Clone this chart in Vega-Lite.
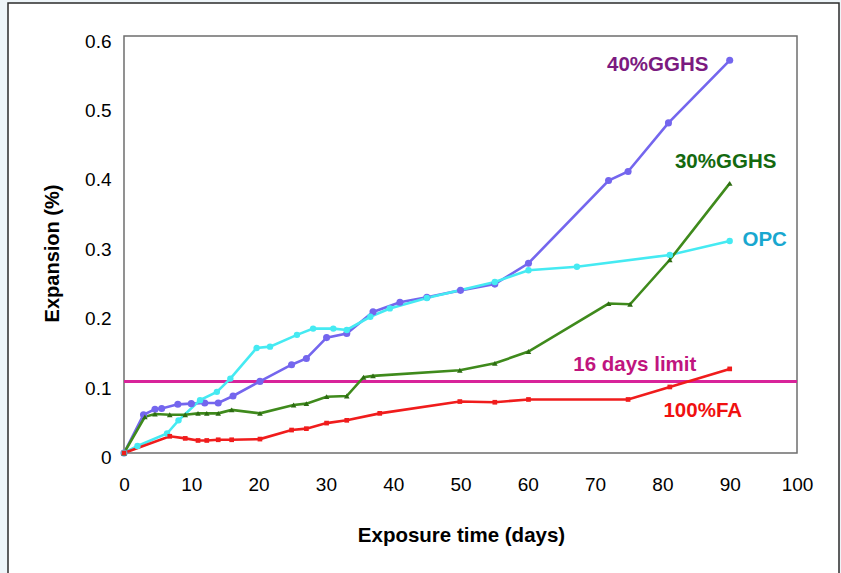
{
  "$schema": "https://vega.github.io/schema/vega-lite/v6.json",
  "width": 831,
  "height": 575,
  "autosize": {"type": "none"},
  "padding": {"left": 8, "top": 3, "right": 2, "bottom": 0},
  "background": "#eef5f9",
  "config": {
    "view": {"fill": "white", "stroke": "#2b2b2b", "strokeWidth": 1.5},
    "font": "Liberation Sans"
  },
  "datasets": {
    "series": [
      {"mix": "40% GGHS", "day": 0, "exp": 0},
      {"mix": "40% GGHS", "day": 2.9, "exp": 0.055},
      {"mix": "40% GGHS", "day": 4.6, "exp": 0.063},
      {"mix": "40% GGHS", "day": 5.6, "exp": 0.064},
      {"mix": "40% GGHS", "day": 8, "exp": 0.070},
      {"mix": "40% GGHS", "day": 10, "exp": 0.071},
      {"mix": "40% GGHS", "day": 12, "exp": 0.072},
      {"mix": "40% GGHS", "day": 14, "exp": 0.072},
      {"mix": "40% GGHS", "day": 16.2, "exp": 0.082},
      {"mix": "40% GGHS", "day": 20.2, "exp": 0.103},
      {"mix": "40% GGHS", "day": 24.9, "exp": 0.127},
      {"mix": "40% GGHS", "day": 27.1, "exp": 0.136},
      {"mix": "40% GGHS", "day": 30.1, "exp": 0.166},
      {"mix": "40% GGHS", "day": 33.1, "exp": 0.172},
      {"mix": "40% GGHS", "day": 37, "exp": 0.203},
      {"mix": "40% GGHS", "day": 41, "exp": 0.217},
      {"mix": "40% GGHS", "day": 45, "exp": 0.224},
      {"mix": "40% GGHS", "day": 50, "exp": 0.234},
      {"mix": "40% GGHS", "day": 55.1, "exp": 0.243},
      {"mix": "40% GGHS", "day": 60.1, "exp": 0.273},
      {"mix": "40% GGHS", "day": 72, "exp": 0.392},
      {"mix": "40% GGHS", "day": 74.9, "exp": 0.405},
      {"mix": "40% GGHS", "day": 80.9, "exp": 0.475},
      {"mix": "40% GGHS", "day": 90, "exp": 0.565},
      {"mix": "OPC", "day": 0, "exp": 0},
      {"mix": "OPC", "day": 2, "exp": 0.010},
      {"mix": "OPC", "day": 6.4, "exp": 0.028},
      {"mix": "OPC", "day": 8.1, "exp": 0.047},
      {"mix": "OPC", "day": 11.3, "exp": 0.076},
      {"mix": "OPC", "day": 13.8, "exp": 0.088},
      {"mix": "OPC", "day": 15.8, "exp": 0.107},
      {"mix": "OPC", "day": 19.7, "exp": 0.151},
      {"mix": "OPC", "day": 21.7, "exp": 0.153},
      {"mix": "OPC", "day": 25.7, "exp": 0.170},
      {"mix": "OPC", "day": 28.1, "exp": 0.179},
      {"mix": "OPC", "day": 31.1, "exp": 0.179},
      {"mix": "OPC", "day": 33.1, "exp": 0.177},
      {"mix": "OPC", "day": 36.6, "exp": 0.196},
      {"mix": "OPC", "day": 39.5, "exp": 0.208},
      {"mix": "OPC", "day": 45, "exp": 0.223},
      {"mix": "OPC", "day": 55.1, "exp": 0.246},
      {"mix": "OPC", "day": 60.1, "exp": 0.263},
      {"mix": "OPC", "day": 67.3, "exp": 0.268},
      {"mix": "OPC", "day": 81.1, "exp": 0.285},
      {"mix": "OPC", "day": 90, "exp": 0.305},
      {"mix": "30% GGHS", "day": 0, "exp": 0},
      {"mix": "30% GGHS", "day": 3.1, "exp": 0.052},
      {"mix": "30% GGHS", "day": 4.6, "exp": 0.056},
      {"mix": "30% GGHS", "day": 6.8, "exp": 0.055},
      {"mix": "30% GGHS", "day": 9.1, "exp": 0.055},
      {"mix": "30% GGHS", "day": 11, "exp": 0.057},
      {"mix": "30% GGHS", "day": 12.3, "exp": 0.057},
      {"mix": "30% GGHS", "day": 14, "exp": 0.057},
      {"mix": "30% GGHS", "day": 16, "exp": 0.062},
      {"mix": "30% GGHS", "day": 20.2, "exp": 0.057},
      {"mix": "30% GGHS", "day": 25.2, "exp": 0.069},
      {"mix": "30% GGHS", "day": 27.1, "exp": 0.071},
      {"mix": "30% GGHS", "day": 30.1, "exp": 0.081},
      {"mix": "30% GGHS", "day": 33.1, "exp": 0.082},
      {"mix": "30% GGHS", "day": 35.6, "exp": 0.109},
      {"mix": "30% GGHS", "day": 37, "exp": 0.111},
      {"mix": "30% GGHS", "day": 49.9, "exp": 0.119},
      {"mix": "30% GGHS", "day": 55.1, "exp": 0.129},
      {"mix": "30% GGHS", "day": 60.1, "exp": 0.146},
      {"mix": "30% GGHS", "day": 72, "exp": 0.215},
      {"mix": "30% GGHS", "day": 75.2, "exp": 0.214},
      {"mix": "30% GGHS", "day": 81.1, "exp": 0.278},
      {"mix": "30% GGHS", "day": 90, "exp": 0.388},
      {"mix": "100% FA", "day": 0, "exp": 0},
      {"mix": "100% FA", "day": 6.8, "exp": 0.024},
      {"mix": "100% FA", "day": 9.1, "exp": 0.021},
      {"mix": "100% FA", "day": 11, "exp": 0.018},
      {"mix": "100% FA", "day": 12.3, "exp": 0.018},
      {"mix": "100% FA", "day": 14, "exp": 0.019},
      {"mix": "100% FA", "day": 16, "exp": 0.019},
      {"mix": "100% FA", "day": 20.2, "exp": 0.020},
      {"mix": "100% FA", "day": 24.9, "exp": 0.033},
      {"mix": "100% FA", "day": 27.1, "exp": 0.035},
      {"mix": "100% FA", "day": 30.1, "exp": 0.043},
      {"mix": "100% FA", "day": 33.1, "exp": 0.047},
      {"mix": "100% FA", "day": 38, "exp": 0.057},
      {"mix": "100% FA", "day": 49.9, "exp": 0.074},
      {"mix": "100% FA", "day": 55.1, "exp": 0.073},
      {"mix": "100% FA", "day": 60.1, "exp": 0.077},
      {"mix": "100% FA", "day": 74.9, "exp": 0.077},
      {"mix": "100% FA", "day": 81.1, "exp": 0.095},
      {"mix": "100% FA", "day": 90, "exp": 0.121}
    ],
    "labels": [
      {"text": "40%GGHS", "day": 79.3, "exp": 0.558},
      {"text": "30%GGHS", "day": 89.4, "exp": 0.418},
      {"text": "OPC", "day": 95.2, "exp": 0.307},
      {"text": "16 days limit", "day": 75.9, "exp": 0.127},
      {"text": "100%FA", "day": 86.0, "exp": 0.060}
    ],
    "limit": [{"day": 0, "day2": 100, "exp": 0.103}],
    "box": [{"day": 0, "day2": 100, "exp": 0, "exp2": 0.6}]
  },
  "encoding": {
    "x": {
      "field": "day",
      "type": "quantitative",
      "scale": {"domain": [-17.236, 106.24], "nice": false, "zero": false},
      "axis": {
        "values": [0, 10, 20, 30, 40, 50, 60, 70, 80, 90, 100],
        "format": "d",
        "domain": false,
        "ticks": false,
        "tickSize": 0,
        "grid": false,
        "offset": -125,
        "labelFontSize": 19,
        "labelColor": "#000000",
        "labelPadding": 22,
        "labelFlush": false,
        "labelOverlap": false,
        "title": "Exposure time (days)",
        "titleFontSize": 20.5,
        "titleFontWeight": "bold",
        "titleColor": "#000000",
        "titleX": 453,
        "titleY": 82,
        "titleAlign": "center",
        "titleBaseline": "middle"
      }
    },
    "y": {
      "field": "exp",
      "type": "quantitative",
      "scale": {"domain": [-0.1799, 0.6475], "nice": false, "zero": false},
      "axis": {
        "values": [0, 0.1, 0.2, 0.3, 0.4, 0.5, 0.6],
        "format": ".1~f",
        "domain": false,
        "ticks": false,
        "tickSize": 0,
        "grid": false,
        "offset": -116,
        "labelFontSize": 19,
        "labelColor": "#000000",
        "labelPadding": 13,
        "labelOffset": 5,
        "labelBaseline": "middle",
        "labelFlush": false,
        "labelOverlap": false,
        "title": "Expansion (%)",
        "titleFontSize": 20,
        "titleFontWeight": "bold",
        "titleColor": "#000000",
        "titleAngle": -90,
        "titleX": -72,
        "titleY": 250,
        "titleAlign": "center",
        "titleBaseline": "middle"
      }
    }
  },
  "layer": [
    {
      "data": {"name": "box"},
      "mark": {"type": "rect", "fill": null, "stroke": "#6e6e6e", "strokeWidth": 1.5},
      "encoding": {"x2": {"field": "day2"}, "y2": {"field": "exp2"}}
    },
    {
      "data": {"name": "limit"},
      "mark": {"type": "rule", "color": "#d8239a", "strokeWidth": 3},
      "encoding": {"x2": {"field": "day2"}}
    },
    {
      "data": {"name": "series"},
      "mark": {"type": "line", "strokeWidth": 2.6},
      "encoding": {
        "color": {
          "field": "mix",
          "type": "nominal",
          "scale": {
            "domain": ["40% GGHS", "OPC", "30% GGHS", "100% FA"],
            "range": ["#7466ee", "#45eaf2", "#3f8a1c", "#f01c1c"]
          },
          "legend": null
        },
        "detail": {"field": "mix"}
      }
    },
    {
      "data": {"name": "series"},
      "mark": {"type": "point", "filled": true, "opacity": 1},
      "encoding": {
        "color": {
          "field": "mix",
          "type": "nominal",
          "scale": {
            "domain": ["40% GGHS", "OPC", "30% GGHS", "100% FA"],
            "range": ["#7466ee", "#45eaf2", "#2d6c12", "#f01c1c"]
          },
          "legend": null
        },
        "shape": {
          "field": "mix",
          "type": "nominal",
          "scale": {
            "domain": ["40% GGHS", "OPC", "30% GGHS", "100% FA"],
            "range": ["circle", "circle", "triangle-up", "square"]
          },
          "legend": null
        },
        "size": {
          "field": "mix",
          "type": "nominal",
          "scale": {
            "domain": ["40% GGHS", "OPC", "30% GGHS", "100% FA"],
            "range": [50, 22, 75, 40]
          },
          "legend": null
        }
      }
    },
    {
      "data": {"name": "labels"},
      "mark": {"type": "text", "fontSize": 20.5, "fontWeight": "bold", "align": "center", "baseline": "middle"},
      "encoding": {
        "text": {"field": "text"},
        "color": {
          "field": "text",
          "type": "nominal",
          "scale": {
            "domain": ["40%GGHS", "30%GGHS", "OPC", "16 days limit", "100%FA"],
            "range": ["#7b1a80", "#14690f", "#19a7cf", "#c0157e", "#f01010"]
          },
          "legend": null
        }
      }
    }
  ],
  "resolve": {"scale": {"color": "independent", "shape": "independent", "size": "independent"}}
}
